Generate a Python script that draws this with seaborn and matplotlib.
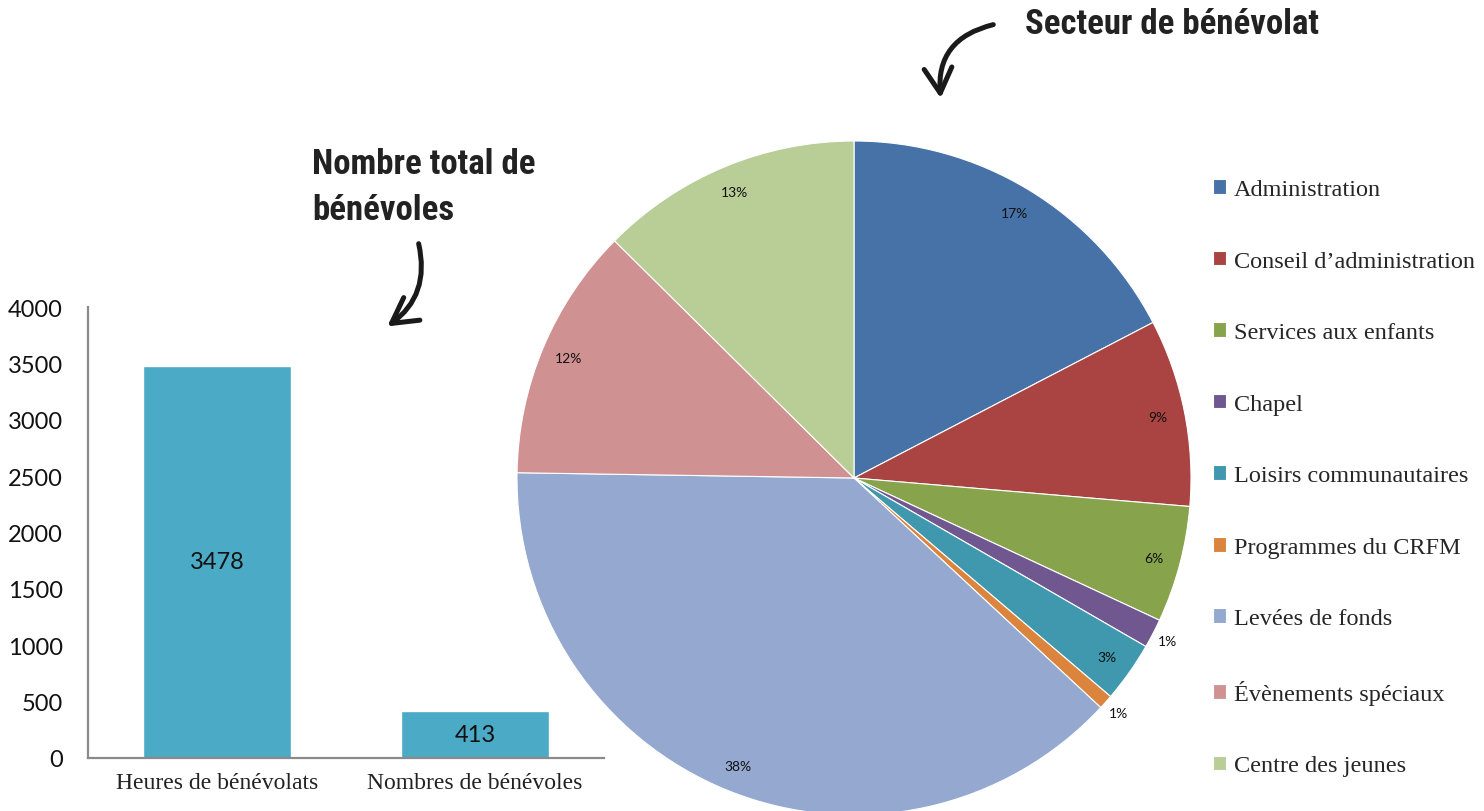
import matplotlib
matplotlib.use("Agg")
import matplotlib.pyplot as plt
import seaborn as sns
import numpy as np
import pandas as pd
from matplotlib.patches import FancyArrowPatch

# ---- data ----
bar_categories = ["Heures de bénévolats", "Nombres de bénévoles"]
bar_values = [3478, 413]
y_ticks = [0, 500, 1000, 1500, 2000, 2500, 3000, 3500, 4000]

sectors = ["Administration", "Conseil d’administration", "Services aux enfants",
           "Chapel", "Loisirs communautaires", "Programmes du CRFM",
           "Levées de fonds", "Évènements spéciaux", "Centre des jeunes"]
sector_values = [17.4, 9.0, 5.6, 1.4, 2.9, 0.7, 38.4, 12.2, 12.6]
sector_colors = ["#4672A8", "#A94442", "#87A34B", "#71578F", "#3F98AE",
                 "#DB843D", "#95A9D0", "#D09192", "#B9CD97"]

title_pie = "Secteur de bénévolat"
title_bar = "Nombre total de\nbénévoles"

sns.set_theme(style="white")
plt.rcParams['font.family'] = ['Lato', 'DejaVu Sans']

W, H = 1484, 812
fig = plt.figure(figsize=(W / 100, H / 100), dpi=100)

def fx(x):
    return x / W

def fy(y):
    return 1 - y / H

# ---- bar chart ----
axb = fig.add_axes([fx(88), fy(759), (604 - 88) / W, (759 - 308) / H])
df = pd.DataFrame({"cat": bar_categories, "val": bar_values})
sns.barplot(data=df, x="cat", y="val", color="#4BABC6", saturation=1,
            width=0.574, ax=axb)
axb.set_xlim(-0.5, 1.5)
axb.set_ylim(0, 4000)
axb.set_yticks(y_ticks)
axb.set_yticklabels([str(t) for t in y_ticks], fontsize=17, color="#111111")
axb.set_xlabel("")
axb.set_ylabel("")
axb.set_xticks(range(len(bar_categories)))
axb.set_xticklabels(bar_categories, fontsize=17, family=["Liberation Serif"],
                    color="#222222")
axb.tick_params(axis="both", length=0)
axb.tick_params(axis="y", pad=18)
axb.tick_params(axis="x", pad=10)
for s in ["top", "right"]:
    axb.spines[s].set_visible(False)
for s in ["left", "bottom"]:
    axb.spines[s].set_color("#8a8a8a")
    axb.spines[s].set_linewidth(1.6)
for c in axb.containers:
    axb.bar_label(c, label_type="center", fontsize=17, color="#111111")

# ---- pie chart ----
R = 337
axp = fig.add_axes([fx(854 - R), fy(479 + R), 2 * R / W, 2 * R / H])
axp.patch.set_visible(False)
wedges, texts, autotexts = axp.pie(
    sector_values, colors=sector_colors, startangle=90, counterclock=False,
    autopct="%1.0f%%", pctdistance=0.92,
    wedgeprops=dict(linewidth=0.8, edgecolor="white"),
    textprops=dict(fontsize=10, color="#111111"))
axp.set_xlim(-1, 1)
axp.set_ylim(-1, 1)
axp.set_aspect("equal")
for w in wedges:
    w.set_clip_on(False)
for w, t, v in zip(wedges, autotexts, sector_values):
    if v < 1.5:
        ang = np.deg2rad((w.theta1 + w.theta2) / 2)
        t.set_position((1.05 * np.cos(ang), 1.05 * np.sin(ang)))

# legend
fig.legend(wedges, sectors, loc="upper left",
           bbox_to_anchor=(fx(1213), fy(180)), frameon=False,
           prop=dict(family="Liberation Serif", size=17.5),
           handlelength=0.55, handleheight=0.55, handletextpad=0.3,
           labelspacing=2.08, borderpad=0, borderaxespad=0)

# ---- titles ----
title_font = dict(family=["Roboto Condensed", "Open Sans Condensed",
                          "Liberation Sans Narrow", "DejaVu Sans"],
                  fontweight="bold", fontstretch="condensed", color="#222222")
fig.text(fx(1025), fy(25), title_pie, fontsize=25, va="center", ha="left",
         **title_font)
fig.text(fx(312), fy(187), title_bar, fontsize=25, va="center", ha="left",
         linespacing=1.5, **title_font)

# ---- arrows ----
arrow_kw = dict(arrowstyle="->,head_length=18,head_width=10", color="#1a1a1a",
                linewidth=3.6, transform=fig.transFigure)
fig.add_artist(FancyArrowPatch((fx(996), fy(25)), (fx(941), fy(102)),
                               connectionstyle="arc3,rad=0.45",
                               mutation_scale=1, **arrow_kw))
fig.add_artist(FancyArrowPatch((fx(418), fy(242)), (fx(385), fy(329)),
                               connectionstyle="arc3,rad=-0.35",
                               mutation_scale=1, **arrow_kw))

fig.savefig("out.png", dpi=100)
